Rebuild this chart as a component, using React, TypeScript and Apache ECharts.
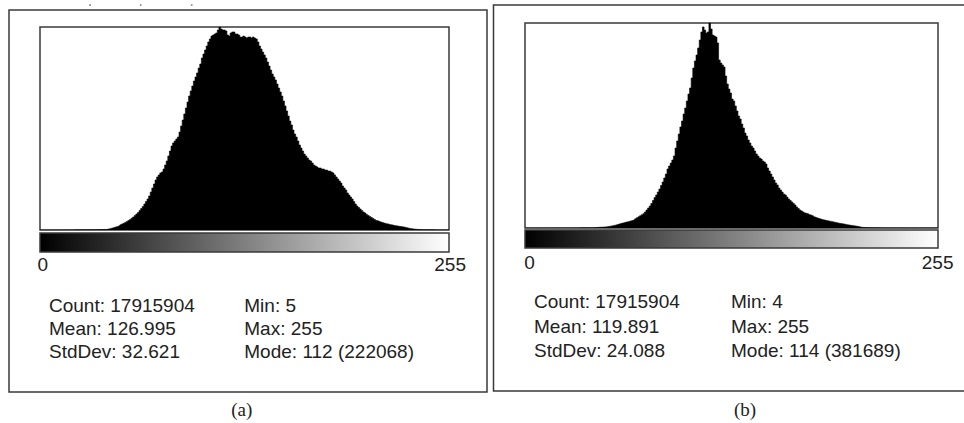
import React, { useEffect, useRef } from "react";
import * as echarts from "echarts";

// Histogram counts per grey level 0..255, in thousands of pixels
const histA: number[] = [
  0, 0, 0, 0, 0, 0.01, 0.01, 0.02, 0.02, 0.03,
  0.03, 0.04, 0.05, 0.05, 0.06, 0.07, 0.08, 0.09, 0.1, 0.11,
  0.12, 0.14, 0.15, 0.17, 0.18, 0.2, 0.22, 0.24, 0.26, 0.28,
  0.3, 0.32, 0.34, 0.36, 0.38, 0.4, 0.42, 0.44, 0.46, 0.5,
  0.44, 0.66, 1.1, 1.5, 2.0, 2.5, 3.1, 3.5, 4.2, 4.8,
  5.7, 6.6, 7.4, 8.3, 9.3, 10.4, 11.5, 12.9, 14.2, 15.9,
  17.5, 19.1, 21.3, 23.5, 25.7, 28.4, 31.2, 33.9, 37.2, 41.6,
  45.9, 50.3, 54.7, 58.0, 60.2, 62.4, 63.5, 66.7, 71.1, 75.5,
  81.0, 86.4, 91.9, 95.2, 97.4, 99.6, 101.7, 107.2, 113.8, 120.3,
  126.9, 133.5, 140.0, 146.6, 152.1, 157.5, 163.0, 167.4, 171.8, 177.2,
  181.6, 188.2, 192.5, 196.9, 201.3, 205.7, 209.0, 212.2, 213.3, 214.4,
  215.5, 218.8, 222.068, 219.9, 218.8, 218.8, 217.7, 213.3, 212.2, 215.5,
  216.6, 216.6, 214.4, 214.4, 213.3, 211.1, 211.1, 212.2, 211.1, 210.0,
  211.1, 211.1, 210.0, 211.1, 210.0, 209.0, 205.7, 201.3, 198.0, 194.7,
  191.5, 188.2, 183.8, 179.4, 175.0, 170.7, 167.4, 164.1, 159.7, 155.3,
  151.0, 146.6, 141.1, 135.7, 130.2, 124.7, 119.2, 114.9, 109.4, 105.0,
  101.7, 97.4, 93.0, 89.7, 86.4, 83.1, 81.0, 78.8, 76.6, 75.5,
  73.3, 71.1, 70.0, 68.9, 67.8, 67.8, 66.7, 66.7, 65.6, 65.6,
  64.5, 64.5, 63.5, 62.4, 60.2, 58.0, 55.8, 53.6, 51.4, 48.1,
  45.9, 43.8, 40.5, 38.3, 36.1, 33.9, 31.2, 28.4, 26.3, 24.6,
  23.0, 21.3, 19.7, 18.6, 17.0, 15.9, 14.8, 13.7, 12.6, 11.5,
  10.4, 9.8, 9.1, 8.4, 7.9, 7.3, 6.9, 6.6, 6.1, 5.7,
  5.4, 4.9, 4.6, 4.4, 4.0, 3.7, 3.5, 3.3, 2.8, 2.4,
  2.0, 1.6, 1.3, 1.1, 0.9, 0.7, 0.55, 0.45, 0.4, 0.35,
  0.3, 0.27, 0.24, 0.21, 0.19, 0.17, 0.15, 0.13, 0.12, 0.1,
  0.09, 0.08, 0.07, 0.06, 0.06, 0.3,
];

const histB: number[] = [
  0, 0, 0, 0, 0.01, 0.01, 0.01, 0.02, 0.02, 0.02,
  0.03, 0.03, 0.04, 0.04, 0.05, 0.05, 0.06, 0.07, 0.07, 0.08,
  0.09, 0.1, 0.11, 0.12, 0.13, 0.14, 0.15, 0.17, 0.18, 0.19,
  0.2, 0.22, 0.23, 0.25, 0.26, 0.28, 0.3, 0.31, 0.33, 0.35,
  0.37, 0.4, 0.6, 0.8, 1.0, 1.2, 1.4, 1.6, 1.8, 2.0,
  2.4, 2.8, 3.4, 3.9, 4.5, 5.2, 6.0, 6.9, 7.8, 8.8,
  9.5, 10.2, 11.0, 11.7, 12.5, 13.4, 14.3, 15.5, 17.1, 19.0,
  20.9, 22.7, 24.6, 26.6, 29.8, 33.5, 37.2, 41.0, 45.6, 51.2,
  56.8, 61.4, 67.0, 72.6, 79.1, 85.7, 93.1, 100.5, 109.9, 115.4,
  121.0, 126.6, 134.1, 149.0, 162.0, 175.0, 188.1, 199.2, 212.3, 223.4,
  236.5, 249.5, 260.7, 279.3, 297.9, 311.0, 322.1, 335.2, 350.1, 365.0,
  374.3, 368.7, 363.1, 365.0, 381.689, 370.5, 359.4, 357.5, 355.6, 344.5,
  312.8, 307.2, 303.5, 299.8, 283.0, 268.1, 258.8, 251.4, 240.2, 236.5,
  227.2, 217.9, 208.5, 203.0, 193.6, 186.2, 176.9, 171.3, 163.9, 158.3,
  152.7, 149.0, 143.4, 137.8, 134.1, 130.3, 128.5, 124.8, 122.9, 119.2,
  111.7, 106.1, 100.5, 95.0, 89.4, 83.8, 80.1, 74.5, 70.8, 67.0,
  63.3, 61.4, 57.7, 54.0, 51.2, 48.4, 45.6, 42.8, 39.1, 36.3,
  33.5, 31.7, 29.8, 27.9, 27.0, 26.1, 24.6, 23.3, 22.3, 20.5,
  19.2, 18.1, 17.1, 16.2, 15.3, 14.7, 14.0, 13.4, 12.8, 12.3,
  11.5, 10.8, 10.2, 9.5, 8.9, 8.4, 7.8, 7.3, 6.7, 6.1,
  5.6, 5.0, 4.7, 4.1, 3.7, 3.2, 2.6, 1.9, 1.3, 1.0,
  0.8, 0.7, 0.6, 0.5, 0.45, 0.4, 0.36, 0.32, 0.29, 0.26,
  0.23, 0.21, 0.19, 0.17, 0.15, 0.14, 0.12, 0.11, 0.1, 0.09,
  0.08, 0.07, 0.07, 0.06, 0.06, 0.05, 0.05, 0.04, 0.04, 0.04,
  0.03, 0.03, 0.03, 0.03, 0.02, 0.02, 0.02, 0.02, 0.02, 0.02,
  0.01, 0.01, 0.01, 0.01, 0.01, 0.2,
];

// Mode counts (thousands) — the histogram is scaled so the mode fills the plot
const modeCountA = 222.068;
const modeCountB = 381.689;

const rangeLabels = ["0", "255"];
const captions = ["(a)", "(b)"];
const statsLeftA = ["Count: 17915904", "Mean: 126.995", "StdDev: 32.621"];
const statsRightA = ["Min: 5", "Max: 255", "Mode: 112 (222068)"];
const statsLeftB = ["Count: 17915904", "Mean: 119.891", "StdDev: 24.088"];
const statsRightB = ["Min: 4", "Max: 255", "Mode: 114 (381689)"];

const SANS = '19px "Liberation Sans", Arial, sans-serif';
const SERIF = '19px "Liberation Serif", "Times New Roman", serif';
const TXT = "#222";
const FRAME = "#3a3a3a";

function toSteps(h: number[]): number[][] {
  const pts = h.map((v, i) => [i, v]);
  pts.push([h.length, h[h.length - 1]]);
  return pts;
}

function text(x: number, y: number, t: string, align: string = "left", font: string = SANS) {
  return {
    type: "text",
    silent: true,
    style: { x, y, text: t, font, fill: TXT, align, verticalAlign: "middle" },
  };
}

export default function App() {
  const ref = useRef<HTMLDivElement>(null);

  useEffect(() => {
    if (!ref.current) return;
    const chart = echarts.init(ref.current, undefined, { renderer: "svg" });

    const gradient = () =>
      new echarts.graphic.LinearGradient(0, 0, 1, 0, [
        { offset: 0, color: "#000000" },
        { offset: 1, color: "#ffffff" },
      ]);

    const graphic: any[] = [
      // outer panel frames
      { type: "rect", silent: true, shape: { x: 9, y: 10, width: 478, height: 382 }, style: { fill: "none", stroke: FRAME, lineWidth: 1.5 } },
      { type: "rect", silent: true, shape: { x: 493.5, y: 5, width: 500, height: 386 }, style: { fill: "none", stroke: FRAME, lineWidth: 1.5 } },
      // grey-level bars
      { type: "rect", silent: true, shape: { x: 40, y: 233, width: 409, height: 19 }, style: { fill: gradient(), stroke: FRAME, lineWidth: 1.5 } },
      { type: "rect", silent: true, shape: { x: 525, y: 230, width: 413, height: 18 }, style: { fill: gradient(), stroke: FRAME, lineWidth: 1.5 } },
      // small marks at top
      { type: "circle", silent: true, shape: { cx: 90, cy: 5, r: 0.9 }, style: { fill: "#777" } },
      { type: "circle", silent: true, shape: { cx: 140.7, cy: 5, r: 0.9 }, style: { fill: "#888" } },
      { type: "circle", silent: true, shape: { cx: 191.7, cy: 5, r: 0.9 }, style: { fill: "#888" } },
      // range labels
      text(37.5, 264, rangeLabels[0]),
      text(466, 264, rangeLabels[1], "right"),
      text(524.2, 262.7, rangeLabels[0]),
      text(953.5, 262.7, rangeLabels[1], "right"),
      // captions
      text(241.7, 409.6, captions[0], "center", SERIF),
      text(745, 409.6, captions[1], "center", SERIF),
    ];
    const rowsA = [305.1, 328.4, 351.7];
    const rowsB = [301.7, 326, 350];
    statsLeftA.forEach((s, i) => graphic.push(text(49, rowsA[i], s)));
    statsRightA.forEach((s, i) => graphic.push(text(244.3, rowsA[i], s)));
    statsLeftB.forEach((s, i) => graphic.push(text(534, rowsB[i], s)));
    statsRightB.forEach((s, i) => graphic.push(text(731, rowsB[i], s)));

    const series = (data: number[], idx: number) => ({
      type: "line",
      xAxisIndex: idx,
      yAxisIndex: idx,
      step: "end",
      symbol: "none",
      silent: true,
      data: toSteps(data),
      lineStyle: { width: 0.6, color: "#000" },
      areaStyle: { color: "#000", opacity: 1 },
    });

    chart.setOption({
      animation: false,
      backgroundColor: "#ffffff",
      grid: [
        { left: 40, top: 27, width: 409, height: 203, show: true, borderColor: FRAME, borderWidth: 1.5, backgroundColor: "#fff" },
        { left: 525, top: 23, width: 413, height: 205, show: true, borderColor: FRAME, borderWidth: 1.5, backgroundColor: "#fff" },
      ],
      xAxis: [
        { type: "value", gridIndex: 0, min: 0, max: 256, show: false },
        { type: "value", gridIndex: 1, min: 0, max: 256, show: false },
      ],
      yAxis: [
        { type: "value", gridIndex: 0, min: 0, max: modeCountA, show: false },
        { type: "value", gridIndex: 1, min: 0, max: modeCountB, show: false },
      ],
      series: [series(histA, 0), series(histB, 1)],
      graphic,
    });

    return () => chart.dispose();
  }, []);

  return (
    <div
      ref={ref}
      style={{ position: "absolute", left: 0, top: 0, width: 964, height: 423, background: "#fff" }}
    />
  );
}
